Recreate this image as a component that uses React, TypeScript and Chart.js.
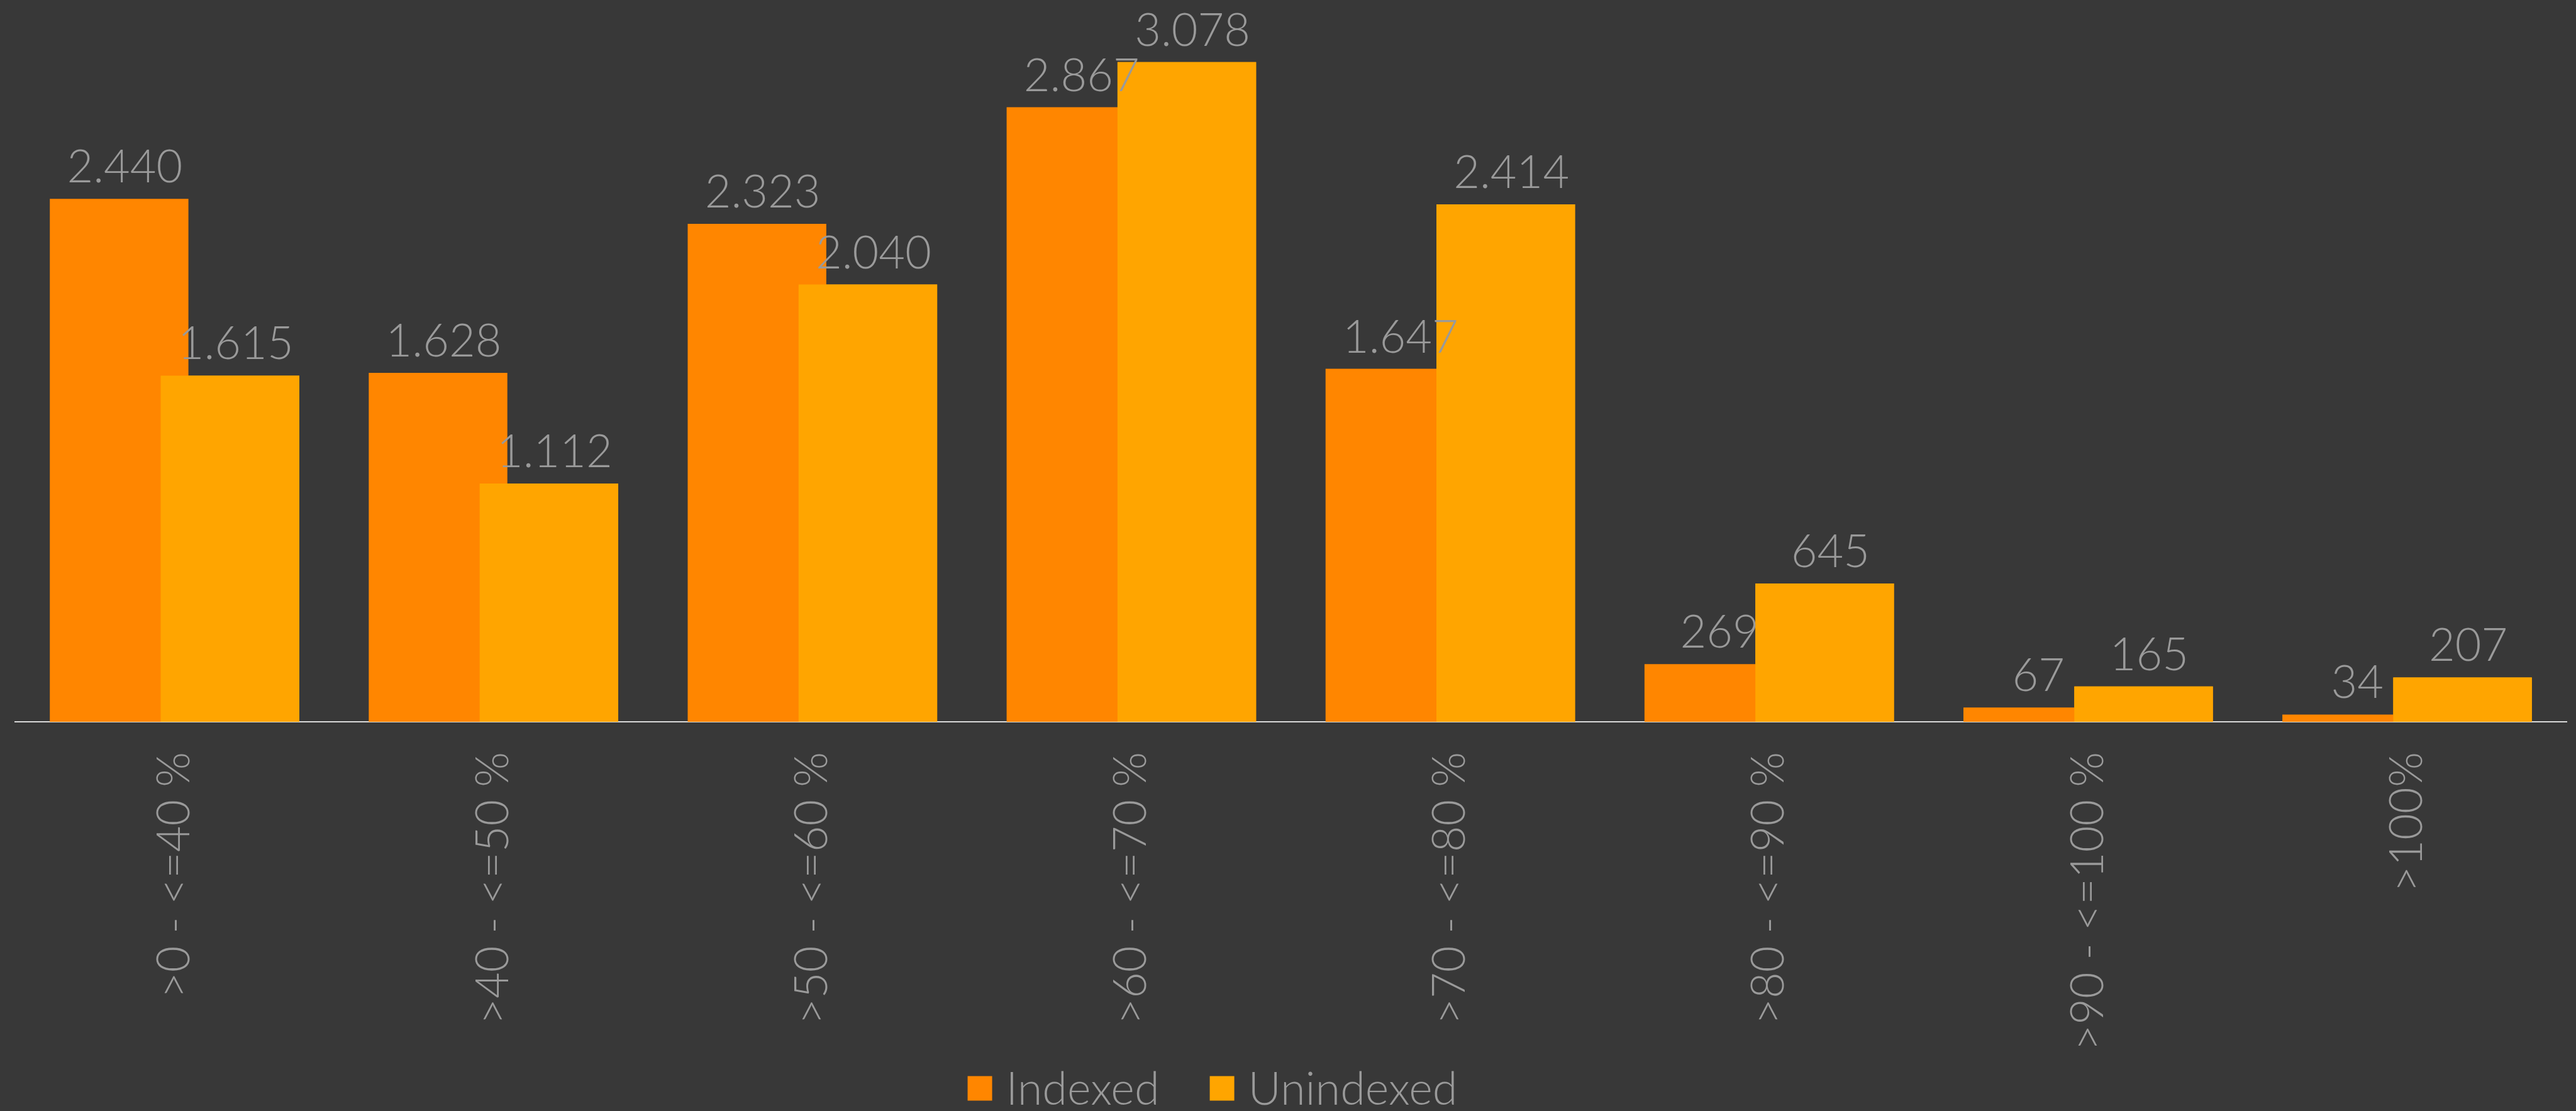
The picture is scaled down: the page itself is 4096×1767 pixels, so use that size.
import React, { useEffect, useRef } from "react";
import { Chart, registerables } from "chart.js";

Chart.register(...registerables);

const categories = [
  ">0 - <=40 %",
  ">40 - <=50 %",
  ">50 - <=60 %",
  ">60 - <=70 %",
  ">70 - <=80 %",
  ">80 - <=90 %",
  ">90 - <=100 %",
  ">100%",
];
const indexedValues = [2440, 1628, 2323, 2867, 1647, 269, 67, 34];
const unindexedValues = [1615, 1112, 2040, 3078, 2414, 645, 165, 207];
const seriesNames = ["Indexed", "Unindexed"];

const W = 4096;
const H = 1767;
const BG = "#383838";
const TEXT = "#9a9a9a";
const C_INDEXED = "#FF8600";
const C_UNINDEXED = "#FFA500";
const FONT_FAMILY = "Lato, Roboto, 'Open Sans', sans-serif";
const FONT_SIZE = 72;
const CHART_BOTTOM = 1148;
const LEGEND_CX = 1928;
const LEGEND_CY = 1731;
const LEGEND_BOX = 39;
const LEGEND_BOX_GAP = 22;
const LEGEND_ITEM_GAP = 80;

function fmt(n: number): string {
  return String(n).replace(/\B(?=(\d{3})+(?!\d))/g, ".");
}

const overlayPlugin = {
  id: "overlayLabels",
  beforeDraw(chart: any) {
    const ctx = chart.ctx;
    ctx.save();
    ctx.fillStyle = BG;
    ctx.fillRect(0, 0, chart.width, chart.height);
    ctx.restore();
  },
  afterDatasetsDraw(chart: any) {
    const ctx = chart.ctx;
    // Unindexed bars sit on top of the Indexed bars where they overlap
    const top = chart.getDatasetMeta(1);
    if (top && top.controller) top.controller.draw();
    ctx.save();
    ctx.font = `300 ${FONT_SIZE}px ${FONT_FAMILY}`;
    ctx.fillStyle = TEXT;
    ctx.textAlign = "center";
    ctx.textBaseline = "alphabetic";
    chart.data.datasets.forEach((ds: any, di: number) => {
      const meta = chart.getDatasetMeta(di);
      meta.data.forEach((el: any, i: number) => {
        ctx.fillText(fmt(ds.data[i]), el.x + 9, el.y - 26);
      });
    });
    ctx.restore();
  },
  afterDraw(chart: any) {
    // legend built from the datasets
    const ctx = chart.ctx;
    ctx.save();
    ctx.font = `300 ${FONT_SIZE}px ${FONT_FAMILY}`;
    ctx.textAlign = "left";
    ctx.textBaseline = "alphabetic";
    const items = chart.data.datasets.map((ds: any) => ({
      text: ds.label as string,
      color: ds.backgroundColor as string,
      w: ctx.measureText(ds.label).width,
    }));
    let total = 0;
    items.forEach((it: any, i: number) => {
      total += LEGEND_BOX + LEGEND_BOX_GAP + it.w + (i > 0 ? LEGEND_ITEM_GAP : 0);
    });
    let x = LEGEND_CX - total / 2;
    const capHalf = FONT_SIZE * 0.36;
    items.forEach((it: any, i: number) => {
      if (i > 0) x += LEGEND_ITEM_GAP;
      ctx.fillStyle = it.color;
      ctx.fillRect(x, LEGEND_CY - LEGEND_BOX / 2, LEGEND_BOX, LEGEND_BOX);
      x += LEGEND_BOX + LEGEND_BOX_GAP;
      ctx.fillStyle = TEXT;
      ctx.fillText(it.text, x, LEGEND_CY + capHalf);
      x += it.w;
    });
    ctx.restore();
  },
};

export default function App() {
  const ref = useRef<HTMLCanvasElement | null>(null);
  useEffect(() => {
    if (!ref.current) return;
    const chart = new Chart(ref.current, {
      type: "bar",
      data: {
        labels: categories,
        datasets: [
          {
            label: seriesNames[0],
            data: indexedValues,
            backgroundColor: C_INDEXED,
            categoryPercentage: 0.6953,
            barPercentage: 1.25,
          },
          {
            label: seriesNames[1],
            data: unindexedValues,
            backgroundColor: C_UNINDEXED,
            categoryPercentage: 0.6953,
            barPercentage: 1.25,
          },
        ],
      },
      options: {
        responsive: false,
        animation: false,
        devicePixelRatio: 1,
        layout: { padding: { left: 24, right: 15, top: 23, bottom: 0 } },
        plugins: {
          legend: { display: false },
          tooltip: { enabled: false },
        },
        scales: {
          x: {
            grid: { display: false, drawTicks: false },
            border: { display: true, color: "#d9d9d9", width: 2 },
            ticks: {
              color: TEXT,
              font: { family: FONT_FAMILY, size: FONT_SIZE, weight: 300 as any },
              minRotation: 90,
              maxRotation: 90,
              autoSkip: false,
              padding: 48,
            },
            afterFit: (s: any) => {
              s.height = H - CHART_BOTTOM;
            },
          },
          y: { display: false, min: 0, max: 3300 },
        },
      },
      plugins: [overlayPlugin],
    });
    return () => chart.destroy();
  }, []);
  return (
    <div style={{ position: "absolute", left: 0, top: 0, width: W, height: H, background: BG }}>
      <canvas ref={ref} width={W} height={H} style={{ display: "block", width: W, height: H }} />
    </div>
  );
}
